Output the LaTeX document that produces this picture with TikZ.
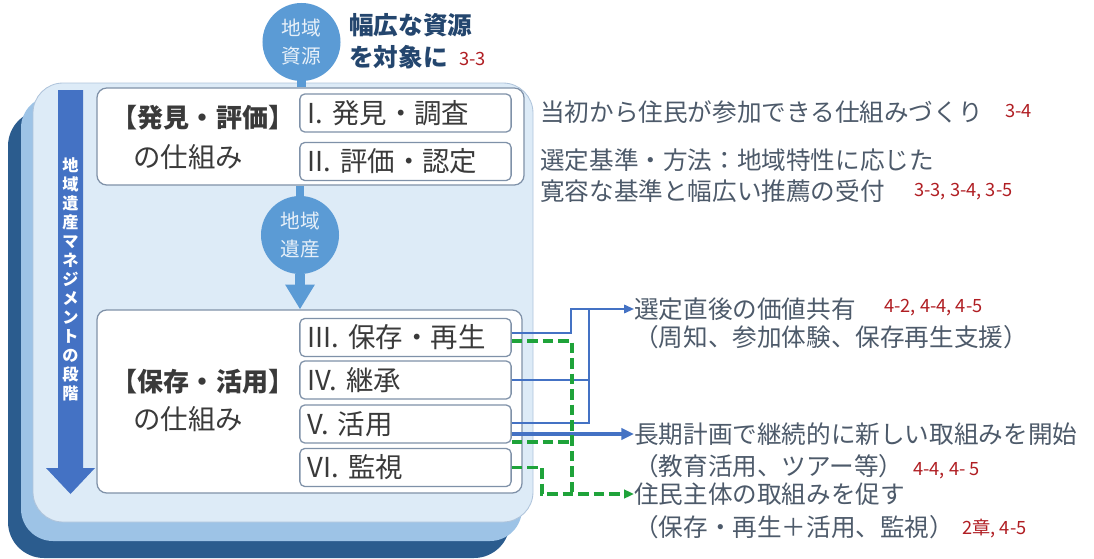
\documentclass[tikz,border=0pt]{standalone}
\usepackage{fontspec}
\setmainfont{Noto Sans CJK JP}
\usetikzlibrary{arrows.meta,calc}

\definecolor{layerdark}{HTML}{2B5C8E}
\definecolor{layermid}{HTML}{9DC3E6}
\definecolor{panelblue}{HTML}{DDEBF7}
\definecolor{panelline}{HTML}{AFC4DB}
\definecolor{boxline}{HTML}{7F91A8}
\definecolor{boxtext}{HTML}{3A3A3A}
\definecolor{notetext}{HTML}{4D5A6A}
\definecolor{refred}{HTML}{B01E23}
\definecolor{circblue}{HTML}{5B9BD5}
\definecolor{barblue}{HTML}{4472C4}
\definecolor{linkgreen}{HTML}{1FA33A}
\definecolor{titlenavy}{HTML}{24466E}

\begin{document}
\begin{tikzpicture}[x=0.025cm,y=-0.025cm,
    groupbox/.style={draw=boxline, line width=0.9pt, rounded corners=7pt, fill=white, inner sep=0pt},
    substage/.style={draw=boxline, line width=0.9pt, rounded corners=3.5pt, fill=white,
        text width=4.9cm, inner xsep=0.19cm, minimum height=0.95cm, align=left,
        text=boxtext, font=\fontsize{19.5}{22}\selectfont},
    flowcircle/.style={circle, fill=circblue, minimum size=1.95cm, inner sep=0pt, align=center,
        text=white!85!circblue, font=\fontsize{14}{20}\selectfont},
    flowbar/.style={draw=circblue, line width=0.22cm},
    grouptitle/.style={text=boxtext, inner sep=0pt},
    rightnote/.style={anchor=west, inner sep=0pt, text=notetext, font=\fontsize{17.5}{20}\selectfont},
    refnote/.style={anchor=west, inner sep=0pt, text=refred, font=\fontsize{13}{15}\selectfont},
    bluelink/.style={draw=barblue, line width=1.3pt},
    bluethick/.style={draw=barblue, line width=2.5pt, -{Triangle[length=9pt,width=8pt]}},
    greenlink/.style={draw=linkgreen, line width=2.6pt, dash pattern=on 7.5pt off 3.5pt}]

    \useasboundingbox (0,0) rectangle (1094,559);

    % Draw the stacked background panels
    \fill[layerdark, rounded corners=0.9cm] (8,110) rectangle (510,558);
    \fill[layermid, rounded corners=0.8cm] (21,96) rectangle (522,541);
    \filldraw[fill=panelblue, draw=panelline, line width=0.6pt, rounded corners=0.75cm] (33,83) rectangle (533,522);

    % Stage arrow on the left
    \fill[barblue] (58,90) -- (83,90) -- (83,468) -- (95,468) -- (70.5,494) -- (46,468) -- (58,468) -- cycle;
    \node[text=white, font=\bfseries\fontsize{11.5}{13.5}\selectfont, align=center, inner sep=0pt]
        (stagelabel) at (70.5,279) {地\\域\\遺\\産\\マ\\ネ\\ジ\\メ\\ン\\ト\\の\\段\\階};

    % Resources circle and heading
    \node[flowcircle] (resource) at (301.5,42) {地域\\資源};
    \node[anchor=west, inner sep=0pt, text=titlenavy, font=\bfseries\fontsize{17.5}{20}\selectfont]
        (headA) at (349,25) {幅広な資源};
    \node[anchor=west, inner sep=0pt, text=titlenavy, font=\bfseries\fontsize{17.5}{20}\selectfont]
        (headB) at (349,57) {を対象に};
    \node[refnote] (refA) at (459,59) {3-3};

    % Discovery / evaluation group
    \node[groupbox, minimum width=10.675cm, minimum height=2.425cm] (discover) at (310.5,136.5) {};
    \draw[flowbar] (resource.south) -- (resource.south |- discover.north);
    \node[grouptitle, font=\bfseries\fontsize{18.5}{20}\selectfont] (discoverA) at (203,118) {【発見・評価】};
    \node[grouptitle, font=\fontsize{19.5}{22}\selectfont, anchor=west] (discoverB) at (133,157) {の仕組み};
    \node[substage] (s1) at (405.5,113) {I. 発見・調査};
    \node[substage] (s2) at (405.5,161.5) {II. 評価・認定};

    % Heritage circle
    \node[flowcircle] (heritage) at (300,235) {地域\\遺産};
    \draw[flowbar] (heritage.north |- discover.south) -- (heritage.north);

    % Conservation / use group
    \node[groupbox, minimum width=10.625cm, minimum height=4.575cm] (conserve) at (309.5,401.5) {};
    \draw[draw=circblue, line width=0.25cm, -{Triangle[width=0.7cm,length=0.62cm]}]
        (heritage.south) -- (heritage.south |- conserve.north);
    \node[grouptitle, font=\bfseries\fontsize{18.5}{20}\selectfont] (conserveA) at (203,382) {【保存・活用】};
    \node[grouptitle, font=\fontsize{19.5}{22}\selectfont, anchor=west] (conserveB) at (133,419) {の仕組み};
    \node[substage] (s3) at (405.5,337.5) {III. 保存・再生};
    \node[substage] (s4) at (405.5,380) {IV. 継承};
    \node[substage] (s5) at (405.5,424) {V. 活用};
    \node[substage] (s6) at (405.5,467.5) {VI. 監視};

    % Notes on the right
    \node[rightnote] (notA) at (540,112) {当初から住民が参加できる仕組みづくり};
    \node[refnote] (refB) at (1005,111) {3-4};
    \node[rightnote] (notB) at (540,160) {選定基準・方法：地域特性に応じた};
    \node[rightnote] (notC) at (540,191) {寛容な基準と幅広い推薦の受付};
    \node[refnote] (refC) at (914,192) {3-3, 3-4, 3-5};

    \node[rightnote] (share) at (634,309) {選定直後の価値共有};
    \node[refnote] (refD) at (884,308) {4-2, 4-4, 4-5};
    \node[rightnote] (shareB) at (634,337) {（周知、参加体験、保存再生支援）};
    \node[rightnote] (plan) at (634,434) {長期計画で継続的に新しい取組みを開始};
    \node[rightnote] (planB) at (634,466) {（教育活用、ツアー等）};
    \node[refnote] (refE) at (913,471) {4-4, 4- 5};
    \node[rightnote] (resid) at (634,494) {住民主体の取組みを促す};
    \node[rightnote] (residB) at (634,527) {（保存・再生＋活用、監視）};
    \node[refnote] (refF) at (962,529) {2章, 4-5};

    % Junction columns
    \coordinate (splitA) at (571,0);
    \coordinate (splitB) at (589,0);
    \coordinate (splitG) at (572,0);
    \coordinate (splitH) at (542,0);
    \coordinate (g5) at ($(s5.east)+(0,18)$);

    % Blue links
    \draw[bluelink, -{Triangle[length=7pt,width=6pt]}] ([yshift=3.2pt]s3.east) -| (splitA |- share.west) -- (share.west);
    \draw[bluelink] (s4.east) -| (splitB |- share.west);
    \draw[bluelink] ([yshift=0.7pt]s5.east) -| (splitB |- s4.east);
    \draw[bluethick] (s5.east |- plan.west) -- (plan.west);

    % Green links
    \draw[greenlink] ([yshift=-2.5pt]s3.east) -| (splitG |- resid.west);
    \draw[greenlink] (g5) -- (g5 -| splitG);
    \draw[greenlink, -{Triangle[length=7pt,width=6pt]}] (s6.east) -| (splitH |- resid.west) -- (resid.west);

\end{tikzpicture}
\end{document}
